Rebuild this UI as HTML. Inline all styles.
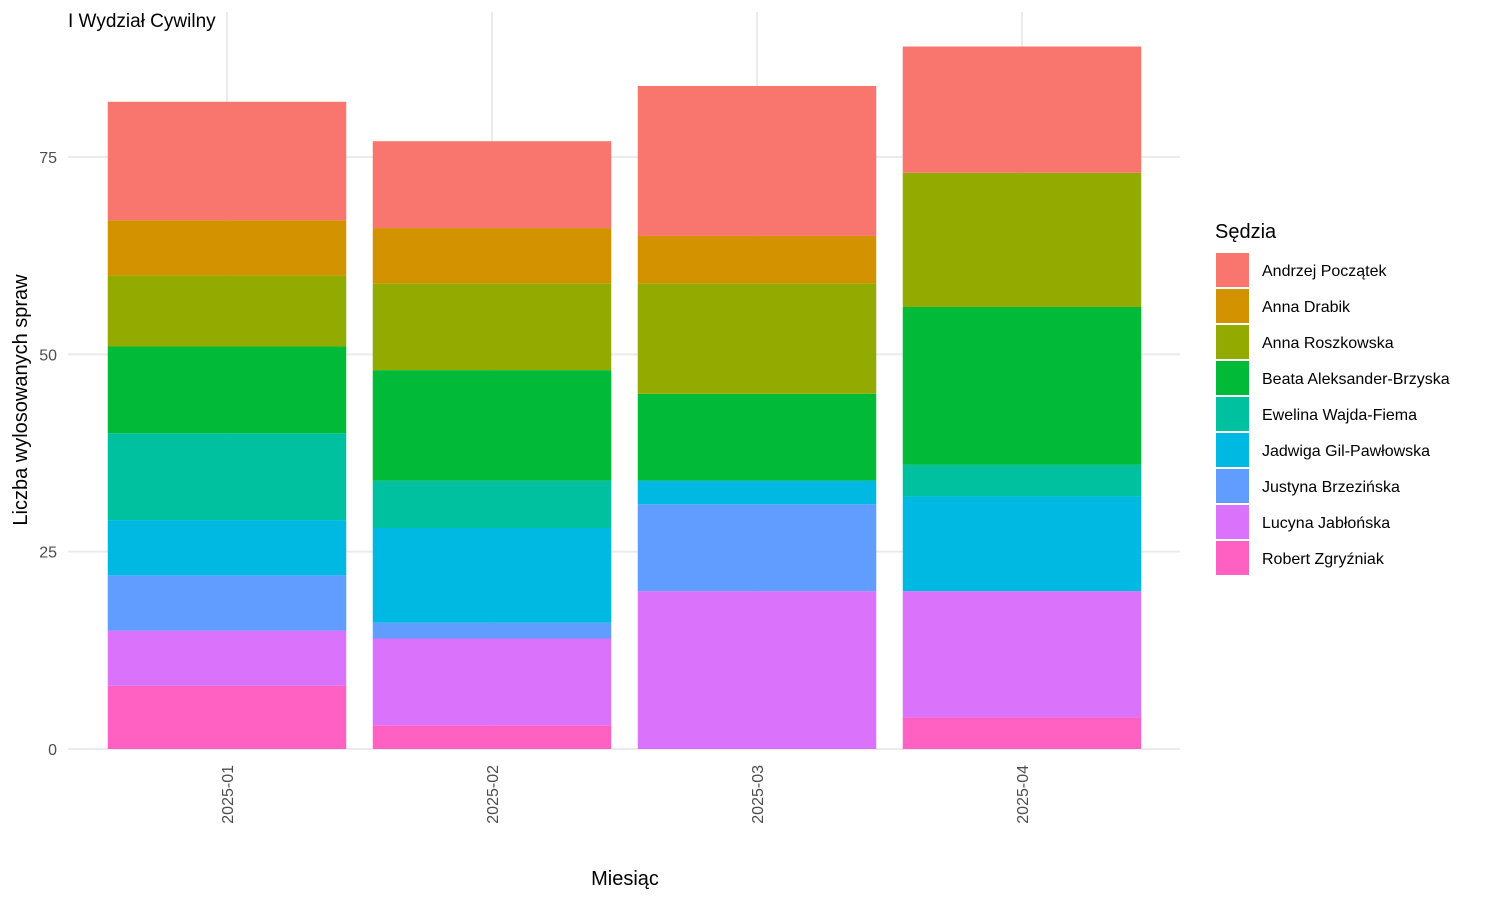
<!DOCTYPE html>
<html><head><meta charset="utf-8"><style>
body{margin:0;background:#fff;font-family:"Liberation Sans","DejaVu Sans",sans-serif}
</style></head><body>
<svg id="chart" width="1500" height="900" xmlns="http://www.w3.org/2000/svg">
<rect width="1500" height="900" fill="#fff"/>
<g id="grid"></g><g id="bars"></g><g id="axes"></g><g id="legend"></g>
<text x="68" y="27" font-size="19" fill="#000">I Wydział Cywilny</text>
<text x="625" y="885" font-size="20" text-anchor="middle" fill="#000">Miesiąc</text>
<text transform="translate(27,400) rotate(-90)" font-size="20" text-anchor="middle" fill="#000">Liczba wylosowanych spraw</text>
<text x="1215" y="238" font-size="20" fill="#000">Sędzia</text>
</svg>
<script>
const categories=["2025-01","2025-02","2025-03","2025-04"];
const judges=["Andrzej Początek","Anna Drabik","Anna Roszkowska","Beata Aleksander-Brzyska","Ewelina Wajda-Fiema","Jadwiga Gil-Pawłowska","Justyna Brzezińska","Lucyna Jabłońska","Robert Zgryźniak"];
const colors=["#F8766D","#D39200","#93AA00","#00BA38","#00C19F","#00B9E3","#619CFF","#DB72FB","#FF61C3"];
const andrzej=[15,11,19,16];
const annaD=[7,7,6,0];
const annaR=[9,11,14,17];
const beata=[11,14,11,20];
const ewelina=[11,6,0,4];
const jadwiga=[7,12,3,12];
const justyna=[7,2,11,0];
const lucyna=[7,11,20,16];
const robert=[8,3,0,4];
const yTicks=[0,25,50,75];
const series=[andrzej,annaD,annaR,beata,ewelina,jadwiga,justyna,lucyna,robert];
const NS="http://www.w3.org/2000/svg";
const y0=749, pxPerUnit=7.893;
const y=v=>y0-v*pxPerUnit;
const band=265, left=68, right=1180;
const xc=i=>left+band*(i+0.6);
const bw=band*0.9;
function mk(tag,attrs,parent){const e=document.createElementNS(NS,tag);for(const k in attrs)e.setAttribute(k,attrs[k]);document.getElementById(parent).appendChild(e);return e;}
yTicks.forEach(t=>{
  const l=mk('line',{x1:left,x2:right,y1:y(t),y2:y(t),stroke:'#ebebeb','stroke-width':2},'grid');
  
  
  const tx=mk('text',{x:57,y:y(t)+6,'font-size':16,fill:'#4d4d4d','text-anchor':'end'},'axes');
  tx.textContent=t;
  
  
});
categories.forEach((c,i)=>{
  const l=mk('line',{x1:xc(i),x2:xc(i),y1:12,y2:y0,stroke:'#ebebeb','stroke-width':2},'grid');
  
  
  const tx=mk('text',{transform:`translate(${xc(i)+6},765) rotate(-90)`,'font-size':16,fill:'#4d4d4d','text-anchor':'end'},'axes');
  tx.textContent=c;
  
  
  let cum=0;
  for(let s=series.length-1;s>=0;s--){
    const v=series[s][i]; if(v<=0)continue;
    const r=mk('rect',{x:xc(i)-bw/2,y:y(cum+v),width:bw,height:v*pxPerUnit,fill:colors[s]},'bars');
    
    
    cum+=v;
  }
});
judges.forEach((j,k)=>{
  const r=mk('rect',{x:1216,y:253+k*36,width:33,height:34,fill:colors[k]},'legend');
  
  
  const t=mk('text',{x:1262,y:276+k*36,'font-size':16,fill:'#000'},'legend');
  t.textContent=j;
  
  
});
</script>
</body></html>
